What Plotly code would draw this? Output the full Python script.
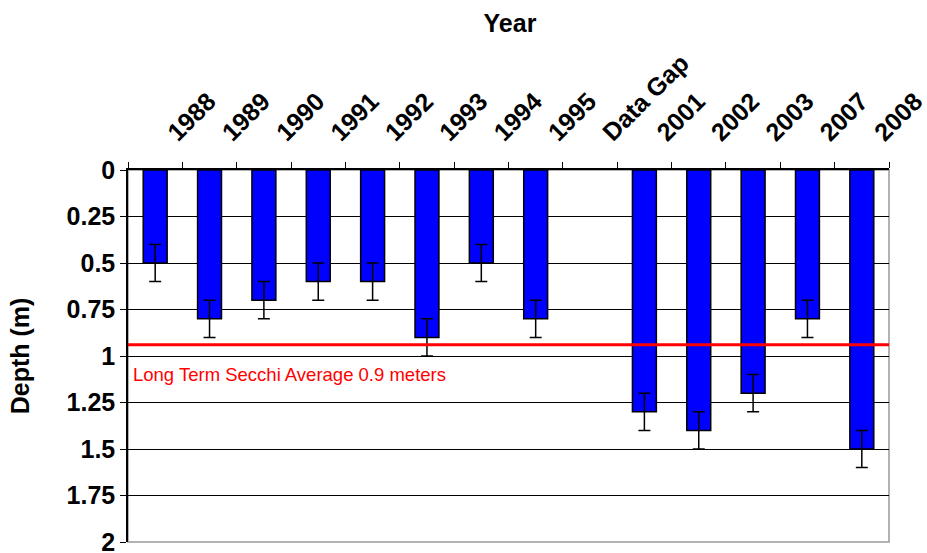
import plotly.graph_objects as go

categories = ["1988", "1989", "1990", "1991", "1992", "1993", "1994", "1995",
              "Data Gap", "2001", "2002", "2003", "2007", "2008"]
depth = [0.5, 0.8, 0.7, 0.6, 0.6, 0.9, 0.5, 0.8, None, 1.3, 1.4, 1.2, 0.8, 1.5]
error = [0.1, 0.1, 0.1, 0.1, 0.1, 0.1, 0.1, 0.1, None, 0.1, 0.1, 0.1, 0.1, 0.1]
long_term_avg = 0.94
avg_label = "Long Term Secchi Average 0.9 meters"
y_ticks = [0, 0.25, 0.5, 0.75, 1, 1.25, 1.5, 1.75, 2]
y_labels = ["0", "0.25", "0.5", "0.75", "1", "1.25", "1.5", "1.75", "2"]

FONT = "Liberation Sans, Arial, sans-serif"

fig = go.Figure()
fig.add_trace(go.Bar(
    x=categories, y=depth,
    marker=dict(color="#0000FF", line=dict(color="black", width=1.5)),
    error_y=dict(type="data", array=error, visible=True, color="black",
                 thickness=1.5, width=6),
    width=0.44,
))

fig.add_shape(type="rect", xref="paper", yref="paper", x0=0, x1=1, y0=0, y1=1,
              line=dict(color="#999999", width=1.5), layer="below")
fig.add_shape(type="line", xref="paper", yref="y", x0=0, x1=1,
              y0=long_term_avg, y1=long_term_avg,
              line=dict(color="#FF0000", width=3))
fig.add_annotation(xref="paper", yref="y", x=0.004, y=1.1, text=avg_label,
                   showarrow=False, xanchor="left", yanchor="middle",
                   font=dict(family=FONT, size=18.5, color="#FF0000"))

fig.update_layout(
    width=927, height=553,
    margin=dict(l=128, r=38, t=170, b=11),
    paper_bgcolor="white", plot_bgcolor="white",
    showlegend=False,
    font=dict(family=FONT, size=25, color="black"),
    title=dict(text="<b>Year</b>", x=510 / 927, xanchor="center", y=1 - 23 / 553,
               yanchor="middle", font=dict(family=FONT, size=25)),
    xaxis=dict(side="top", type="category", tickangle=-45,
               ticks="outside", tickson="boundaries", ticklen=6,
               tickcolor="black", showline=True, linecolor="black",
               linewidth=1.5, showgrid=False, automargin=False,
               ticklabelshift=14, ticklabelstandoff=12,
               ticklabeloverflow="allow",
               tickfont=dict(family=FONT, size=25, weight="bold")),
    yaxis=dict(range=[2, 0], tickvals=y_ticks, ticktext=y_labels,
               ticks="outside", ticklen=6, tickcolor="black",
               showline=True, linecolor="black", linewidth=1.5,
               showgrid=True, gridcolor="black", gridwidth=1,
               zeroline=False, automargin=False,
               ticklabeloverflow="allow",
               tickfont=dict(family=FONT, size=25, weight="bold"),
               title=dict(text="<b>Depth (m)</b>", standoff=30,
                          font=dict(family=FONT, size=25))),
)

fig.write_html("out.html", config={"displayModeBar": False},
               post_script="document.body.style.margin='0';")
